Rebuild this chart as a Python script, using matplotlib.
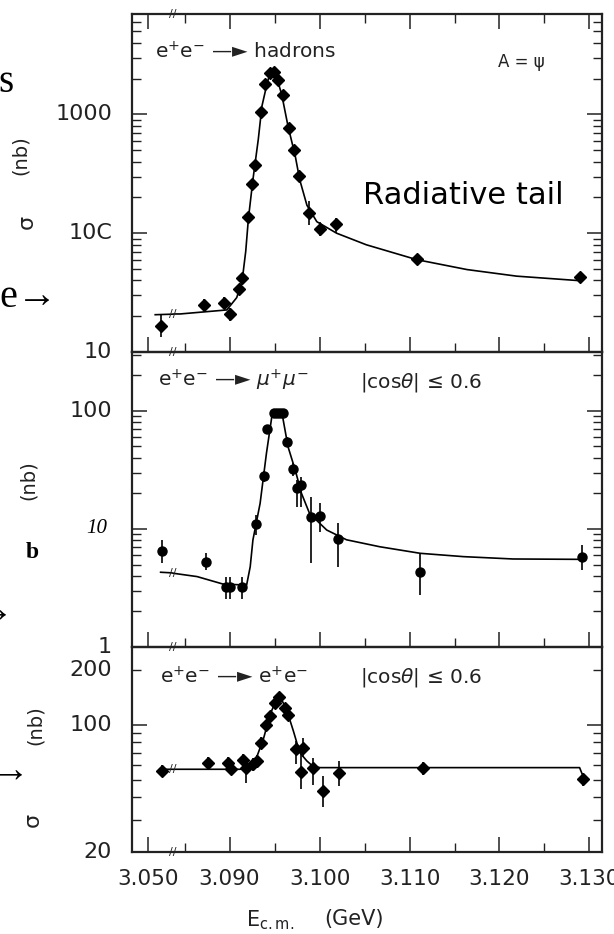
import numpy as np
import matplotlib
matplotlib.use("Agg")
import matplotlib.pyplot as plt
from matplotlib import transforms
from matplotlib.ticker import FixedLocator, NullFormatter, FixedFormatter

W, H, DPI = 614, 934, 100

# ---------------- e+e- -> hadrons ----------------
had_E = [3.0514, 3.0872, 3.0894, 3.0901, 3.0910, 3.0914, 3.0920, 3.0925, 3.0928,
         3.0935, 3.0939, 3.0945, 3.0949, 3.0954, 3.0959, 3.0966, 3.0972, 3.0977,
         3.0988, 3.1001, 3.1018, 3.1108, 3.1289]
had_sig = [16.7, 25.0, 25.8, 20.9, 33.7, 42.2, 138, 261, 376,
           1053, 1813, 2250, 2260, 1958, 1468, 764, 504, 303,
           149, 109, 120, 61.1, 42.8]
had_lo = [3.4, 3.0, 3.0, 2.5, 3.0, 4.0, 10, 18, 25, 60, 100, 120, 120, 110, 80, 45, 30, 22,
          32, 15, 20, 5, 4]
had_hi = [3.6, 3.0, 3.0, 2.5, 3.0, 4.0, 10, 18, 25, 60, 100, 120, 120, 110, 80, 45, 30, 22,
          37, 15, 13, 5, 4]
had_fit_E = [3.0508, 3.0526, 3.0839, 3.0845, 3.0897, 3.0908, 3.0914, 3.0918, 3.0921,
             3.0926, 3.0932, 3.0936, 3.0941, 3.0946, 3.0952, 3.0958, 3.0965, 3.0973,
             3.0978, 3.0986, 3.0997, 3.1019, 3.1052, 3.1108, 3.1164, 3.1219, 3.1286]
had_fit_sig = [20.6, 20.8, 20.9, 20.9, 22.6, 28.7, 39.7, 70.2, 133,
               282, 619, 1172, 1720, 2400, 2100, 1470, 796, 448,
               282, 172, 125, 100, 79.9, 59.9, 49.4, 43.5, 40.0]

# ---------------- e+e- -> mu+mu- ----------------
mu_E = [3.0515, 3.0874, 3.0896, 3.0901, 3.0914, 3.0929, 3.0938, 3.0942, 3.0949,
        3.0953, 3.0956, 3.0959, 3.0964, 3.0970, 3.0975, 3.0979, 3.0991, 3.1001,
        3.1021, 3.1112, 3.1292]
mu_sig = [6.55, 5.28, 3.24, 3.24, 3.24, 11.0, 28.1, 70, 95.6,
          95.6, 95.6, 95.6, 55, 32.1, 22.1, 23.6, 12.7, 12.9,
          8.23, 4.35, 5.83]
mu_lo = [1.4, 0.8, 0.7, 0.7, 0.7, 2.1, 3, 6, 8, 8, 8, 8, 5, 4, 6.7, 8.3, 7.5, 3.5, 3.5, 1.6, 1.3]
mu_hi = [1.45, 1.0, 0.65, 0.65, 0.65, 2.1, 3, 6, 8, 8, 8, 8, 5, 4, 4, 4, 5.9, 3.7, 3.0, 1.95, 1.5]
mu_fit_E = [3.0514, 3.0526, 3.0839, 3.0864, 3.0893, 3.0919, 3.0923, 3.0926, 3.0934,
            3.0941, 3.0947, 3.0952, 3.0959, 3.0965, 3.0973, 3.0980, 3.0989, 3.1008,
            3.1030, 3.1067, 3.1112, 3.1160, 3.1215, 3.1289]
mu_fit_sig = [4.30, 4.25, 4.20, 3.95, 3.41, 3.35, 4.79, 8.07, 16.5,
              43.6, 89.5, 95.6, 89.5, 49.8, 31.6, 20.0, 13.5, 9.8,
              8.1, 7.07, 6.22, 5.83, 5.57, 5.53]

# ---------------- e+e- -> e+e- ----------------
ee_E = [3.0516, 3.0876, 3.0898, 3.0902, 3.0915, 3.0918, 3.0926, 3.0931, 3.0935,
        3.0941, 3.0945, 3.0950, 3.0955, 3.0962, 3.0965, 3.0974, 3.0979, 3.0982,
        3.0993, 3.1004, 3.1022, 3.1115, 3.1293]
ee_sig = [55.9, 62, 62, 57, 64.5, 58.2, 60.7, 63.3, 79.7,
          100, 111.6, 131.9, 141.7, 123.8, 113.8, 73.3, 55.3, 74.8,
          58.2, 43.4, 54.1, 57.7, 50.2]
ee_lo = [4, 5, 5, 4, 5, 10, 5, 5, 6, 7, 8, 9, 9, 8, 8, 12, 11, 8, 11.7, 8, 8, 5, 4]
ee_hi = [4, 5, 5, 4, 5, 5, 5, 5, 6, 7, 8, 9, 9, 8, 8, 8, 17, 10, 7.3, 9, 9, 5, 4]
ee_fit_E = [3.0516, 3.0526, 3.0839, 3.0912, 3.0923, 3.0930, 3.0938, 3.0945, 3.0952,
            3.0958, 3.0964, 3.0971, 3.0978, 3.0986, 3.0993, 3.1001, 3.1289, 3.1293]
ee_fit_sig = [57, 57, 57, 57, 59.5, 66, 84.8, 113.8, 137.5,
              137.5, 118.8, 92.4, 70.5, 63.3, 59, 58.2, 58.2, 52]

# axis ticks and labels
x_major = [3.050, 3.090, 3.100, 3.110, 3.120, 3.130]
x_minor = [3.085, 3.095, 3.105, 3.115, 3.125]
x_labels = ["3.050", "3.090", "3.100", "3.110", "3.120", "3.130"]

# broken energy axis: the low point sits left of a compressed gap
BREAK_E = [3.000, 3.0527, 3.0838, 3.200]
BREAK_U = [3.030944, 3.083644, 3.0838, 3.200]
E_GAP = 3.068


def fwd(e):
    return np.interp(e, BREAK_E, BREAK_U)


def inv(u):
    return np.interp(u, BREAK_U, BREAK_E)


INK = "#222222"
plt.rcParams["font.family"] = ["DejaVu Sans"]
plt.rcParams["mathtext.fontset"] = "dejavusans"

fig = plt.figure(figsize=(W / DPI, H / DPI), dpi=DPI)


def box(x0, y0, x1, y1):
    return [x0 / W, 1 - y1 / H, (x1 - x0) / W, (y1 - y0) / H]


ax_h = fig.add_axes(box(132, 14, 602, 352))
ax_m = fig.add_axes(box(132, 352, 602, 647))
ax_e = fig.add_axes(box(132, 647, 602, 852))

panels = [
    (ax_h, (10, 7000), [10, 100, 1000],
     [20, 30, 40, 50, 60, 70, 80, 90, 200, 300, 400, 500, 600, 700, 800, 900,
      2000, 3000, 4000, 5000, 6000]),
    (ax_m, (1, 316), [1, 10, 100],
     [2, 3, 4, 5, 6, 7, 8, 9, 20, 30, 40, 50, 60, 70, 80, 90, 200, 300]),
    (ax_e, (20, 268), [100],
     [30, 40, 50, 60, 70, 80, 90, 200]),
]

for ax, ylim, ymaj, ymin in panels:
    ax.set_xscale("function", functions=(fwd, inv))
    ax.set_yscale("log")
    ax.set_xlim(3.04822, 3.13139)
    ax.set_ylim(*ylim)
    ax.xaxis.set_major_locator(FixedLocator(x_major))
    ax.xaxis.set_minor_locator(FixedLocator(x_minor))
    ax.yaxis.set_major_locator(FixedLocator(ymaj))
    ax.yaxis.set_minor_locator(FixedLocator(ymin))
    ax.yaxis.set_major_formatter(NullFormatter())
    ax.yaxis.set_minor_formatter(NullFormatter())
    ax.xaxis.set_major_formatter(NullFormatter())
    ax.xaxis.set_minor_formatter(NullFormatter())
    ax.tick_params(which="major", direction="in", length=11, width=1.1, color=INK,
                   left=True, right=True, top=False, bottom=True)
    ax.tick_params(which="minor", direction="in", length=6.5, width=1.0, color=INK,
                   left=True, right=True, top=False, bottom=True)
    for sp in ax.spines.values():
        sp.set_linewidth(1.6)
        sp.set_color(INK)
    ax.patch.set_alpha(0)

ax_h.tick_params(which="both", top=True)
ax_e.xaxis.set_major_formatter(FixedFormatter(x_labels))
ax_e.tick_params(axis="x", which="major", labelsize=15.5, pad=12, labelcolor=INK)

# data with error bars and fitted curves
ax_h.errorbar(had_E, had_sig, yerr=[had_lo, had_hi], fmt="D", ms=6, color="k",
              elinewidth=1.2, capsize=0, zorder=3)
ax_h.plot(had_fit_E, had_fit_sig, color="k", lw=1.2, zorder=2)

ax_m.errorbar(mu_E, mu_sig, yerr=[mu_lo, mu_hi], fmt="o", ms=6.5, color="k",
              elinewidth=1.2, capsize=0, zorder=3)
ax_m.plot(mu_fit_E, mu_fit_sig, color="k", lw=1.2, zorder=2)

ax_e.errorbar(ee_E, ee_sig, yerr=[ee_lo, ee_hi], fmt="D", ms=6, color="k",
              elinewidth=1.2, capsize=0, zorder=3)
ax_e.plot(ee_fit_E, ee_fit_sig, color="k", lw=1.2, zorder=2)

# break marks on the axes and on the curves
for ax, fit_s, edges in [(ax_h, had_fit_sig, (0, 1)), (ax_m, mu_fit_sig, (0,)),
                         (ax_e, ee_fit_sig, (0,))]:
    tr = transforms.blended_transform_factory(ax.transData, ax.transAxes)
    for yy in edges:
        ax.text(E_GAP, yy, "//", transform=tr, fontsize=8, ha="center", va="center",
                color=INK, zorder=5)
    ax.text(E_GAP, fit_s[1], "//", fontsize=8, ha="center", va="center", color=INK,
            zorder=5)

# y tick labels
ylab_off = transforms.ScaledTranslation(-0.20, 0, fig.dpi_scale_trans)
for ax, vals, labs in [(ax_h, [10, 100, 1000], ["10", "10C", "1000"]),
                       (ax_m, [1, 100], ["1", "100"]),
                       (ax_e, [20, 100, 200], ["20", "100", "200"])]:
    tr = ax.get_yaxis_transform() + ylab_off
    for v, s in zip(vals, labs):
        ax.text(0, v, s, transform=tr, ha="right", va="center", fontsize=16,
                color=INK)
ax_m.text(0, 10, "10", transform=ax_m.get_yaxis_transform()
          + transforms.ScaledTranslation(-0.25, 0, fig.dpi_scale_trans),
          ha="right", va="center", fontsize=15, family="Liberation Serif",
          style="italic", color="k")

# panel titles
ax_h.text(0.049, 0.888, "e$^{+}$e$^{-}$ \u2014\u25ba hadrons", transform=ax_h.transAxes,
          fontsize=14.5, va="center", ha="left", color=INK)
ax_h.text(0.828, 0.858, "A = \u03c8", transform=ax_h.transAxes, fontsize=12,
          va="center", ha="center", color=INK)
ax_h.text(0.491, 0.464, "Radiative tail", transform=ax_h.transAxes, fontsize=22,
          va="center", ha="left", color="k")

ax_m.text(0.055, 0.905, "e$^{+}$e$^{-}$ \u2014\u25ba $\\mu^{+}\\mu^{-}$",
          transform=ax_m.transAxes, fontsize=14.5, va="center", ha="left", color=INK)
ax_m.text(0.485, 0.898, "|cos$\\theta$| \u2264 0.6", transform=ax_m.transAxes,
          fontsize=14.5, va="center", ha="left", color=INK)

ax_e.text(0.06, 0.854, "e$^{+}$e$^{-}$ \u2014\u25ba e$^{+}$e$^{-}$",
          transform=ax_e.transAxes, fontsize=14.5, va="center", ha="left", color=INK)
ax_e.text(0.485, 0.849, "|cos$\\theta$| \u2264 0.6", transform=ax_e.transAxes,
          fontsize=14.5, va="center", ha="left", color=INK)


def ftxt(x, y, s, **kw):
    fig.text(x / W, 1 - y / H, s, **kw)


# axis titles
ftxt(20, 155, "(nb)", rotation=90, ha="center", va="center", fontsize=14, color=INK)
ftxt(27, 222, "\u03c3", rotation=90, ha="center", va="center", fontsize=16, color=INK)
ftxt(28, 480, "(nb)", rotation=90, ha="center", va="center", fontsize=14, color=INK)
ftxt(32, 553, "b", ha="center", va="center", fontsize=17, family="Liberation Serif",
     weight="bold", color="k")
ftxt(35, 725, "(nb)", rotation=90, ha="center", va="center", fontsize=14, color=INK)
ftxt(33, 820, "\u03c3", rotation=90, ha="center", va="center", fontsize=16, color=INK)

ftxt(270, 920, "E$_{\\mathregular{c.m.}}$", ha="center", va="center", fontsize=15,
     color=INK)
ftxt(354, 919, "(GeV)", ha="center", va="center", fontsize=15, color=INK)

# slide text around the figure
serif = dict(family="Liberation Serif", color="k")
ftxt(-2, 92, "s", ha="left", va="baseline", fontsize=28, **serif)
ftxt(-1, 307, "e\u2192", ha="left", va="baseline", fontsize=29, **serif)
ftxt(13, 622, "\u2192", ha="right", va="baseline", fontsize=28, **serif)
ftxt(29, 782, "\u2192", ha="right", va="baseline", fontsize=28, **serif)

fig.savefig("out.png", dpi=DPI)
